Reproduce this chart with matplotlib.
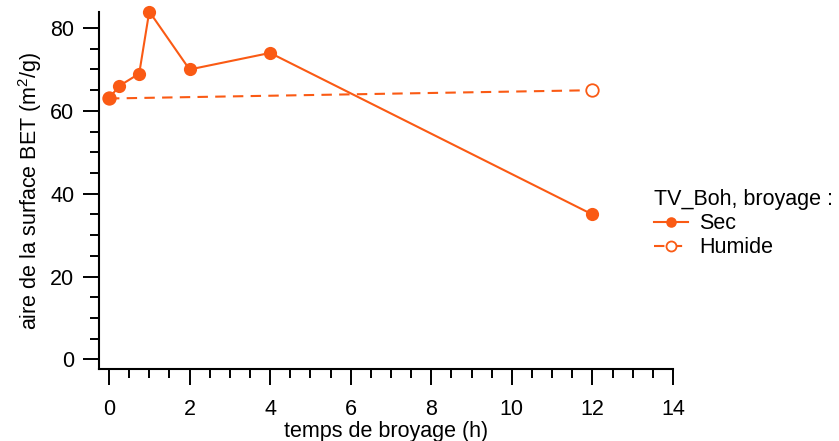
import matplotlib
matplotlib.use("Agg")
import matplotlib.pyplot as plt
from matplotlib.ticker import MultipleLocator

# données
temps_sec = [0, 0.25, 0.75, 1, 2, 4, 12]
surface_sec = [63, 66, 69, 84, 70, 74, 35]
temps_humide = [0, 12]
surface_humide = [63, 65]

orange = "#fa5a14"

plt.rcParams["font.family"] = ["Liberation Sans", "DejaVu Sans"]
plt.rcParams["mathtext.default"] = "regular"
plt.rcParams["font.size"] = 15.5

fig = plt.figure(figsize=(8.39, 4.41), dpi=100)
ax = fig.add_axes([98.5 / 839, 1 - 369 / 441, (673 - 98.5) / 839, (369 - 11.5) / 441])

ax.plot(temps_humide, surface_humide, color=orange, linewidth=1.5, linestyle=(0, (5, 3.5)),
        marker="o", markersize=9, markerfacecolor="white", markeredgecolor=orange,
        markeredgewidth=1.3, label="Humide", zorder=2, clip_on=False)
ax.plot(temps_sec, surface_sec, color=orange, linewidth=1.5, marker="o", markersize=9.5,
        markeredgewidth=0, label="Sec", zorder=3, clip_on=False)

ax.set_xlim(-0.26, 14)
ax.set_ylim(-2.3, 84)
ax.xaxis.set_major_locator(MultipleLocator(2))
ax.xaxis.set_minor_locator(MultipleLocator(0.5))
ax.yaxis.set_major_locator(MultipleLocator(20))
ax.yaxis.set_minor_locator(MultipleLocator(5))

for side in ("top", "right"):
    ax.spines[side].set_visible(False)
for side in ("left", "bottom"):
    ax.spines[side].set_linewidth(1.5)
ax.tick_params(which="major", direction="out", length=11.5, width=1.4)
ax.tick_params(which="minor", direction="out", length=6.5, width=1.4)
ax.tick_params(axis="x", which="major", pad=10)
ax.tick_params(axis="y", which="major", pad=6)

ax.set_xlabel("temps de broyage (h)", labelpad=1)
ax.set_ylabel("aire de la surface BET (m$^2$/g)", labelpad=4.5)

handles, labels = ax.get_legend_handles_labels()
leg = fig.legend(handles[::-1], labels[::-1], title="TV_Boh, broyage :", loc="upper left",
                 bbox_to_anchor=(654 / 839, 1 - 189 / 441), frameon=False, borderpad=0,
                 labelspacing=0.15, handlelength=1.6, handletextpad=0.5,
                 borderaxespad=0, markerscale=0.8)
leg._legend_box.align = "left"
leg.get_title().set_fontsize(15.5)

fig.savefig("out.png", dpi=100)
